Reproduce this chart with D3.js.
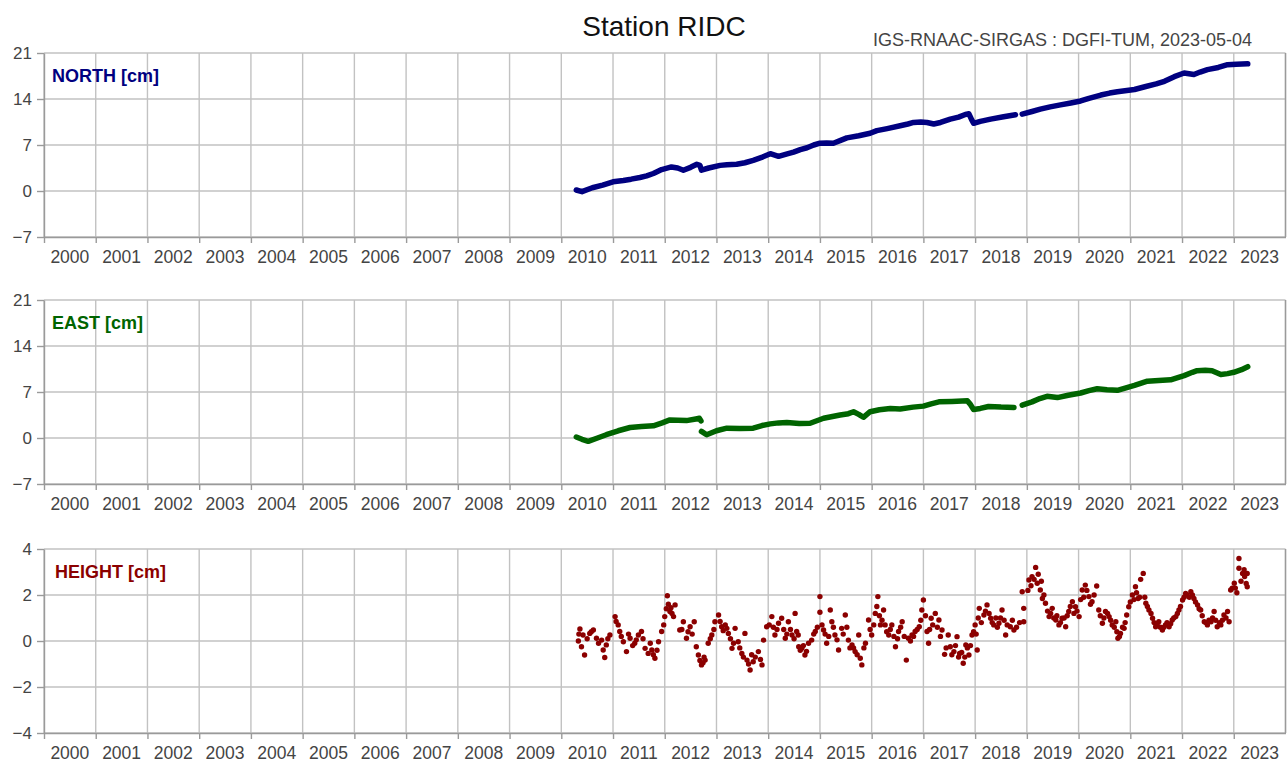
<!DOCTYPE html>
<html>
<head>
<meta charset="utf-8">
<script src="https://cdn.jsdelivr.net/npm/d3@7"></script>
<style>
  body { margin: 0; background: #fff; }
  text { font-family: "Liberation Sans", Arial, sans-serif; }
</style>
</head>
<body>
<svg id="chart"></svg>
<script>
// ---- data ----
const yearLabels = ["2000","2001","2002","2003","2004","2005","2006","2007","2008","2009","2010","2011",
  "2012","2013","2014","2015","2016","2017","2018","2019","2020","2021","2022","2023"];
const yearEdges = [2000,2001,2002,2003,2004,2005,2006,2007,2008,2009,2010,2011,2012,
  2013,2014,2015,2016,2017,2018,2019,2020,2021,2022,2023,2024];

const northTicks = [-7, 0, 7, 14, 21];
const eastTicks = [-7, 0, 7, 14, 21];
const heightTicks = [-4, -2, 0, 2, 4];

// [decimal year, cm], null = data gap
const north = [
  [2010.29,0.15],[2010.4,-0.1],[2010.6,0.5],[2010.8,0.9],[2011.0,1.4],[2011.2,1.6],[2011.35,1.8],
  [2011.52,2.06],[2011.65,2.3],[2011.78,2.66],[2011.94,3.26],[2012.13,3.66],[2012.25,3.5],[2012.36,3.16],
  [2012.5,3.6],[2012.62,4.06],[2012.68,3.9],[2012.71,3.16],[2012.85,3.5],[2013.07,3.9],[2013.2,4.0],
  [2013.39,4.06],[2013.55,4.3],[2013.71,4.67],[2013.9,5.2],[2014.04,5.67],[2014.2,5.27],[2014.35,5.6],
  [2014.49,5.92],[2014.62,6.3],[2014.75,6.58],[2014.88,7.0],[2015.0,7.27],[2015.13,7.3],[2015.26,7.27],
  [2015.4,7.7],[2015.52,8.08],[2015.75,8.4],[2015.97,8.78],[2016.1,9.18],[2016.3,9.5],[2016.55,9.93],
  [2016.7,10.2],[2016.81,10.43],[2016.95,10.5],[2017.07,10.43],[2017.2,10.19],[2017.33,10.43],
  [2017.52,10.94],[2017.68,11.25],[2017.81,11.65],[2017.88,11.75],[2017.93,10.9],[2017.97,10.3],
  [2018.1,10.6],[2018.3,10.94],[2018.55,11.3],[2018.78,11.6],null,
  [2018.91,11.7],[2019.1,12.1],[2019.26,12.45],[2019.45,12.8],[2019.65,13.1],[2019.85,13.4],
  [2020.04,13.7],[2020.2,14.1],[2020.43,14.6],[2020.6,14.9],[2020.75,15.1],[2021.08,15.45],
  [2021.3,15.9],[2021.5,16.3],[2021.66,16.7],[2021.85,17.4],[2022.04,17.96],[2022.23,17.72],
  [2022.35,18.1],[2022.49,18.47],[2022.7,18.8],[2022.88,19.22],[2023.05,19.3],[2023.27,19.35]
];

const east = [
  [2010.29,0.15],[2010.4,-0.2],[2010.52,-0.5],[2010.7,0.0],[2010.87,0.5],[2011.1,1.1],[2011.33,1.6],
  [2011.55,1.75],[2011.78,1.85],[2011.95,2.3],[2012.1,2.75],[2012.25,2.7],[2012.42,2.65],
  [2012.6,2.9],[2012.67,3.0],[2012.7,2.6],null,
  [2012.71,1.0],[2012.81,0.5],[2013.0,1.1],[2013.2,1.5],[2013.45,1.45],[2013.71,1.5],[2013.88,1.9],
  [2014.04,2.15],[2014.2,2.3],[2014.36,2.35],[2014.6,2.2],[2014.81,2.25],[2015.07,3.0],[2015.39,3.5],
  [2015.55,3.7],[2015.65,4.0],[2015.75,3.6],[2015.84,3.15],[2015.97,4.0],[2016.15,4.3],[2016.36,4.5],
  [2016.55,4.4],[2016.8,4.7],[2017.0,4.85],[2017.15,5.2],[2017.3,5.5],[2017.55,5.55],[2017.85,5.65],
  [2017.9,5.2],[2017.97,4.35],[2018.1,4.5],[2018.26,4.8],[2018.5,4.7],[2018.75,4.65],null,
  [2018.91,5.0],[2019.1,5.5],[2019.25,6.0],[2019.39,6.35],[2019.59,6.15],[2019.8,6.5],[2020.04,6.85],
  [2020.2,7.2],[2020.36,7.5],[2020.55,7.35],[2020.75,7.25],[2020.9,7.6],[2021.08,8.0],[2021.33,8.65],
  [2021.55,8.75],[2021.78,8.85],[2022.04,9.5],[2022.2,10.0],[2022.29,10.25],[2022.45,10.3],
  [2022.58,10.25],[2022.75,9.65],[2022.88,9.8],[2023.0,10.0],[2023.15,10.4],[2023.27,10.85]
];

const height = [
  [2010.36,0.52],[2010.33,0.0],[2010.39,-0.25],[2010.45,-0.61],[2010.42,0.26],[2010.55,0.33],
  [2010.62,0.48],[2010.68,0.12],[2010.78,0.04],[2010.81,-0.39],[2010.84,-0.72],[2010.87,-0.17],
  [2010.94,0.26],[2011.04,1.06],[2011.1,0.7],[2011.13,0.41],[2011.2,-0.03],[2011.26,-0.46],
  [2011.33,0.12],[2011.42,-0.1],[2011.49,0.26],[2011.55,0.41],[2011.62,-0.32],[2011.68,-0.54],
  [2011.75,-0.39],[2011.81,-0.75],[2011.88,-0.03],[2011.94,0.41],[2012.0,1.06],[2012.05,1.97],
  [2012.1,1.28],[2012.17,1.06],[2012.2,1.57],[2012.29,0.48],[2012.36,0.84],[2012.42,0.12],
  [2012.49,0.62],[2012.57,0.84],[2012.61,-0.25],[2012.65,-0.61],[2012.71,-1.04],[2012.78,-0.83],
  [2012.84,-0.1],[2012.91,0.26],[2012.97,0.84],[2013.04,1.13],[2013.1,0.62],[2013.17,0.7],
  [2013.23,0.33],[2013.3,-0.32],[2013.36,0.55],[2013.42,-0.03],[2013.49,-0.54],[2013.55,0.33],
  [2013.59,-0.83],[2013.65,-1.26],[2013.71,-0.9],[2013.81,-0.46],[2013.88,-1.04],[2013.91,0.04],
  [2013.97,0.62],[2014.07,1.06],[2014.13,0.26],[2014.2,0.77],[2014.26,0.99],[2014.33,0.12],
  [2014.39,0.84],[2014.46,0.26],[2014.55,0.41],[2014.59,-0.25],
  [2014.52,1.2],[2014.58,0.26],[2014.65,-0.32],[2014.71,-0.61],[2014.78,-0.1],[2014.84,0.04],
  [2014.91,0.41],[2015.0,1.93],[2015.0,1.25],[2015.07,0.48],[2015.13,-0.1],[2015.2,1.35],
  [2015.23,0.84],[2015.29,0.26],[2015.36,-0.39],[2015.42,0.55],[2015.49,1.13],[2015.55,0.04],
  [2015.62,-0.17],[2015.68,-0.46],[2015.75,0.26],[2015.78,-0.75],[2015.81,-1.04],[2015.88,-0.1],
  [2015.94,0.91],[2016.0,0.26],[2016.07,1.2],[2016.12,1.93],[2016.17,0.7],[2016.23,1.35],
  [2016.26,0.7],[2016.33,0.26],[2016.39,0.7],[2016.46,-0.25],[2016.52,0.41],[2016.59,0.84],
  [2016.67,-0.83],[2016.71,0.12],[2016.78,0.26],[2016.84,0.41],[2016.92,0.62],[2016.97,1.35],
  [2017.0,1.78],[2017.07,0.41],[2017.1,-0.1],[2017.15,0.99],[2017.23,1.2],[2017.3,0.91],
  [2017.36,0.48],[2017.41,-0.58],[2017.48,0.26],[2017.52,-0.25],[2017.59,-0.46],[2017.65,0.19],
  [2017.7,-0.54],[2017.77,-0.97],[2017.82,-0.17],[2017.88,-0.61],[2017.94,0.26],[2018.04,-0.39],
  [2018.0,0.7],[2018.08,1.42],[2018.17,1.13],[2018.23,1.57],[2018.3,0.99],[2018.36,0.7],
  [2018.46,0.77],[2018.52,1.35],[2018.59,0.26],[2018.68,0.62],[2018.75,0.48],
  [2018.91,2.14],[2018.94,1.42],[2018.94,0.84],[2019.04,2.65],[2019.14,2.68],[2019.17,3.2],
  [2019.2,2.51],[2019.26,2.22],[2019.3,1.85],[2019.36,1.64],[2019.43,1.06],[2019.49,1.42],
  [2019.56,0.91],[2019.62,0.7],[2019.68,0.99],[2019.75,0.62],[2019.81,1.28],[2019.88,1.71],
  [2019.94,1.49],[2020.01,1.06],[2020.07,2.22],[2020.13,2.43],[2020.2,1.93],[2020.26,1.71],
  [2020.35,2.39],[2020.39,1.35],[2020.46,0.77],[2020.52,1.28],[2020.59,1.06],[2020.65,0.7],
  [2020.72,0.84],[2020.76,0.12],[2020.81,0.33],[2020.88,0.55],[2020.93,1.13],[2020.97,1.49],
  [2021.04,2.0],[2021.1,2.36],[2021.15,1.85],[2021.2,2.68],[2021.25,2.94],[2021.3,1.64],
  [2021.36,1.35],[2021.43,0.99],[2021.49,0.62],[2021.55,0.84],[2021.62,0.48],[2021.68,0.7],
  [2021.75,0.62],[2021.81,0.91],[2021.88,1.06],[2021.94,1.35],[2022.01,1.78],[2022.07,2.07],
  [2022.17,2.14],[2022.23,1.85],[2022.3,1.57],[2022.36,1.35],[2022.43,0.84],[2022.49,0.7],
  [2022.56,0.84],[2022.62,1.28],[2022.68,0.62],[2022.75,0.7],[2022.81,1.13],[2022.88,1.28],
  [2022.91,0.84],[2022.94,2.22],[2023.01,2.51],[2023.06,2.1],[2023.1,3.16],[2023.1,3.59],
  [2023.17,2.94],[2023.21,2.8],[2023.26,2.94],[2023.26,2.36],
  // denser clusters
  [2010.34,0.3],[2010.5,0.1],[2010.58,0.4],[2010.72,-0.1],[2010.9,0.1],
  [2011.06,0.85],[2011.16,0.2],[2011.3,0.3],[2011.38,-0.2],[2011.45,0.05],[2011.58,0.1],
  [2011.72,-0.1],[2011.78,-0.6],[2011.85,-0.4],[2011.98,0.7],
  [2012.03,1.4],[2012.07,1.6],[2012.12,1.45],[2012.14,1.2],[2012.33,0.5],[2012.45,0.4],
  [2012.53,0.3],[2012.68,-0.85],[2012.74,-0.95],[2012.76,-0.7],[2012.88,0.1],[2012.95,0.5],
  [2013.07,0.85],[2013.13,0.45],[2013.2,0.55],[2013.27,0.1],[2013.33,-0.1],[2013.45,-0.3],
  [2013.52,-0.7],[2013.62,-1.0],[2013.68,-0.6],[2013.75,-0.7],[2013.85,-0.8],
  [2014.02,0.7],[2014.1,0.6],[2014.17,0.5],[2014.3,0.5],[2014.36,0.3],[2014.43,0.5],[2014.5,0.1],
  [2014.62,-0.4],[2014.68,-0.2],[2014.74,-0.45],[2014.88,0.3],[2014.95,0.6],
  [2015.04,0.7],[2015.1,0.3],[2015.17,0.2],[2015.26,0.6],[2015.33,0.05],[2015.45,0.3],[2015.52,0.6],
  [2015.58,-0.3],[2015.65,-0.3],[2015.72,-0.6],[2015.85,-0.3],[2015.97,0.5],
  [2016.04,0.7],[2016.1,1.5],[2016.15,1.1],[2016.2,0.9],[2016.29,0.4],[2016.36,0.5],[2016.43,0.2],
  [2016.5,0.1],[2016.56,0.6],[2016.63,0.2],[2016.75,0.0],[2016.81,0.2],[2016.88,0.5],[2016.95,0.9],
  [2017.04,1.1],[2017.12,0.5],[2017.18,0.7],[2017.27,0.6],[2017.33,0.2],[2017.44,-0.3],[2017.55,-0.6],
  [2017.62,-0.2],[2017.68,-0.7],[2017.74,-0.5],[2017.8,-0.7],[2017.85,-0.3],[2017.91,-0.2],[2017.97,0.4],
  [2018.02,0.3],[2018.06,1.0],[2018.12,0.8],[2018.2,1.3],[2018.27,1.2],[2018.33,0.8],[2018.4,1.0],
  [2018.43,0.6],[2018.49,1.0],[2018.56,0.9],[2018.62,0.7],[2018.72,0.9],[2018.8,0.6],[2018.86,0.8],
  [2019.02,2.2],[2019.08,2.4],[2019.1,2.8],[2019.22,2.9],[2019.28,2.6],[2019.33,2.0],[2019.4,1.3],
  [2019.46,1.2],[2019.52,1.0],[2019.58,1.1],[2019.65,0.8],[2019.72,1.0],[2019.78,1.1],[2019.84,1.5],
  [2019.91,1.2],[2019.97,1.3],
  [2020.04,1.8],[2020.1,1.9],[2020.16,2.2],[2020.23,1.6],[2020.3,2.0],[2020.42,1.1],[2020.49,1.0],
  [2020.56,1.2],[2020.62,0.9],[2020.69,0.6],[2020.74,0.4],[2020.79,0.2],[2020.85,0.6],[2020.9,0.8],
  [2021.0,1.7],[2021.07,1.8],[2021.12,2.1],[2021.18,1.9],[2021.28,1.9],[2021.33,1.5],[2021.4,1.2],
  [2021.46,0.8],[2021.52,0.75],[2021.58,0.6],[2021.65,0.6],[2021.71,0.8],[2021.78,0.75],[2021.84,1.0],
  [2021.91,1.2],[2021.97,1.5],
  [2022.04,1.9],[2022.1,2.0],[2022.14,1.9],[2022.2,2.0],[2022.26,1.7],[2022.33,1.4],[2022.39,1.1],
  [2022.46,0.8],[2022.52,0.9],[2022.59,1.0],[2022.65,0.9],[2022.72,0.8],[2022.78,0.9],[2022.85,1.0],
  [2022.97,2.3],[2023.03,2.3],[2023.14,2.6],[2023.2,3.1],[2023.24,2.5]
];

// ---- layout ----
const W = 1287, H = 762;
const panelH = 184;
const panels = [
  { label: "NORTH [cm]", data: north, ticks: northTicks, color: "#000080", top: 53, kind: "line" },
  { label: "EAST [cm]", data: east, ticks: eastTicks, color: "#006400", top: 300, kind: "line" },
  { label: "HEIGHT [cm]", data: height, ticks: heightTicks, color: "#8b0000", top: 549, kind: "dots" }
];

const svg = d3.select("#chart").attr("width", W).attr("height", H);

const x = d3.scaleLinear().domain([2000, 2024]).range([44, 1285.5]);
const gridColor = "#c2c2c2";

svg.append("text")
  .attr("x", 664).attr("y", 36)
  .attr("text-anchor", "middle")
  .attr("font-size", 28)
  .attr("fill", "#111")
  .text("Station RIDC");

svg.append("text")
  .attr("x", 1252).attr("y", 46)
  .attr("text-anchor", "end")
  .attr("font-size", 18)
  .attr("fill", "#444")
  .text("IGS-RNAAC-SIRGAS : DGFI-TUM, 2023-05-04");

panels.forEach(p => {
  const g = svg.append("g");
  const bottom = p.top + panelH;
  const y = d3.scaleLinear().domain(d3.extent(p.ticks)).range([bottom, p.top]);

  // grid
  g.append("g").selectAll("line").data(yearEdges).join("line")
    .attr("x1", d => x(d)).attr("x2", d => x(d))
    .attr("y1", p.top).attr("y2", bottom)
    .attr("stroke", gridColor).attr("stroke-width", 1.4);
  g.append("g").selectAll("line").data(p.ticks).join("line")
    .attr("x1", x.range()[0]).attr("x2", x.range()[1])
    .attr("y1", d => y(d)).attr("y2", d => y(d))
    .attr("stroke", gridColor).attr("stroke-width", 1.4);

  // axes
  const yAxis = g.append("g")
    .attr("transform", `translate(${x.range()[0]},0)`)
    .call(d3.axisLeft(y).tickValues(p.ticks).tickSize(7).tickSizeOuter(0).tickPadding(5));
  yAxis.select(".domain").attr("stroke", "#9a9a9a").attr("stroke-width", 1.4);
  yAxis.selectAll(".tick line").attr("stroke", "#9a9a9a").attr("stroke-width", 1.4);
  yAxis.selectAll(".tick text").attr("font-size", 17).attr("fill", "#444")
    .attr("font-family", "'Liberation Sans', Arial, sans-serif");

  const xAxis = g.append("g")
    .attr("transform", `translate(0,${bottom})`)
    .call(d3.axisBottom(x).tickValues(yearEdges.slice(0, -1)).tickSize(6).tickSizeOuter(0).tickFormat(""));
  xAxis.select(".domain").attr("stroke", "#9a9a9a").attr("stroke-width", 1.4);
  xAxis.selectAll(".tick line").attr("stroke", "#9a9a9a").attr("stroke-width", 1.4);

  g.append("g").selectAll("text").data(yearLabels).join("text")
    .attr("x", d => x(+d + 0.5))
    .attr("y", bottom + 26)
    .attr("text-anchor", "middle")
    .attr("font-size", 17.5)
    .attr("fill", "#444")
    .text(d => d);

  // right frame edge
  g.append("line")
    .attr("x1", x.range()[1]).attr("x2", x.range()[1])
    .attr("y1", p.top).attr("y2", bottom)
    .attr("stroke", "#9a9a9a").attr("stroke-width", 1.4);

  // series
  if (p.kind === "line") {
    const line = d3.line()
      .defined(d => d !== null)
      .x(d => x(d[0]))
      .y(d => y(d[1]))
      .curve(d3.curveLinear);
    g.append("path")
      .datum(p.data)
      .attr("fill", "none")
      .attr("stroke", p.color)
      .attr("stroke-width", 5.5)
      .attr("stroke-linejoin", "round")
      .attr("stroke-linecap", "round")
      .attr("d", line);
  } else {
    g.append("g").selectAll("circle").data(p.data).join("circle")
      .attr("cx", d => x(d[0]))
      .attr("cy", d => y(d[1]))
      .attr("r", 2.7)
      .attr("fill", p.color);
  }

  g.append("text")
    .attr("x", p.kind === "dots" ? 55 : 52)
    .attr("y", p.top + 29)
    .attr("font-size", 18)
    .attr("font-weight", "bold")
    .attr("fill", p.color)
    .text(p.label);
});
</script>
</body>
</html>
